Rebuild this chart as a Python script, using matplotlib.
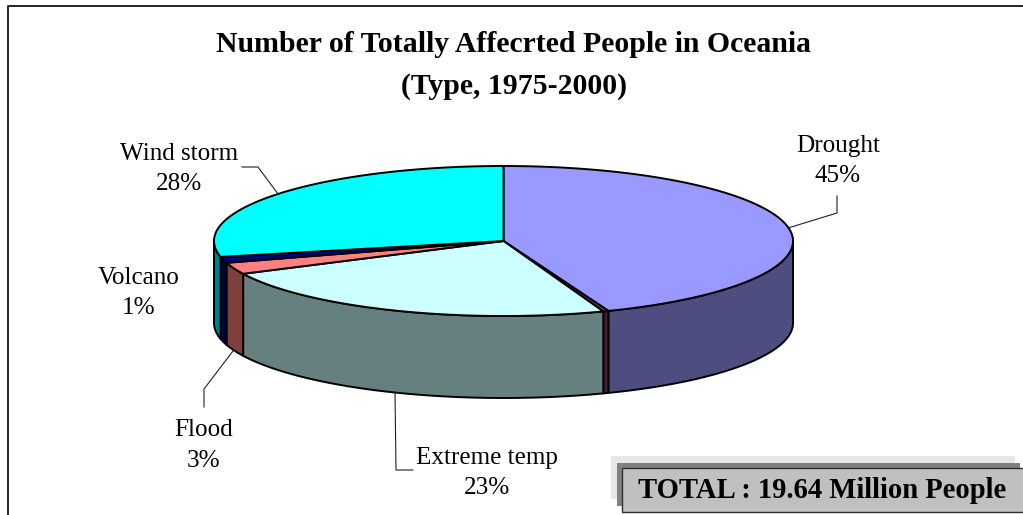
import numpy as np
import matplotlib
matplotlib.use("Agg")
import matplotlib.pyplot as plt
from matplotlib.patches import Rectangle

plt.rcParams['font.family'] = ['Liberation Serif', 'DejaVu Serif']

#---------------------------------------#
# DATA                                  #
#---------------------------------------#
# clockwise from 12 o'clock, shares as they look in the drawing
SHARES = [44.1, 0.3, 23.4, 2.5, 1.3, 28.4]
TOP_COLOURS = ['#9999FF', '#993366', '#CCFFFF', '#FF8080', '#000080', '#00FFFF']
SIDE_COLOURS = ['#4D4D80', '#4D1A33', '#668080', '#804040', '#000040', '#008080']
LABELS = ['Drought\n45%', 'Extreme temp\n23%', 'Flood\n3%', 'Volcano\n1%', 'Wind storm\n28%']
TITLE = 'Number of Totally Affecrted People in Oceania\n(Type, 1975-2000)'
TOTAL_TEXT = 'TOTAL : 19.64 Million People'

#---------------------------------------#
# LAYOUT (pixels)                       #
#---------------------------------------#
CX, CY = 503.5, 241
RX, RY = 289.5, 75
DEPTH = 82
LABEL_POS = [(838, 161), (487, 473), (204, 445.5), (139, 293), (179, 169)]
LEADERS = [
    [(788, 228), (837, 213), (837, 196)],
    [(395, 392), (396, 470), (413, 470)],
    [(233, 351), (204, 389), (204, 407)],
    [(242, 167), (258, 167), (278, 194)],
]


def ellipse_xy(deg, drop=0):
    # deg is clockwise from the top of the ellipse
    a = np.radians(deg)
    return CX + RX * np.sin(a), CY - RY * np.cos(a) + drop


fig = plt.figure(figsize=(10.23, 5.15), dpi=100)
ax = fig.add_axes([0, 0, 1, 1])
ax.set_xlim(0, 1023)
ax.set_ylim(515, 0)
ax.axis('off')

# chart frame, only left and top edges show in the picture
ax.plot([8, 8, 1023], [515, 6, 6], color='black', lw=1.2)

# side walls first, only the front half of the disc shows
edges = np.concatenate([[0], np.cumsum(SHARES)]) / sum(SHARES) * 360
for i in range(len(SHARES)):
    lo, hi = max(edges[i], 90), min(edges[i + 1], 270)
    if hi <= lo:
        continue
    t = np.linspace(lo, hi, 80)
    x, y = ellipse_xy(t)
    xb, yb = ellipse_xy(t[::-1], DEPTH)
    ax.fill(np.r_[x, xb], np.r_[y, yb], fc=SIDE_COLOURS[i], ec='black', lw=1.4, joinstyle='round')

# top wedges
for i in range(len(SHARES)):
    t = np.linspace(edges[i], edges[i + 1], 150)
    x, y = ellipse_xy(t)
    ax.fill(np.r_[CX, x], np.r_[CY, y], fc=TOP_COLOURS[i], ec='black', lw=1.4, joinstyle='round')

for pts in LEADERS:
    ax.plot(*zip(*pts), color='#202020', lw=0.8)

ax.text(514, 65.5, TITLE, ha='center', va='center', fontsize=21.4, fontweight='bold', linespacing=1.68)
for text, (x, y) in zip(LABELS, LABEL_POS):
    ax.text(x, y, text, ha='center', va='center', fontsize=18.1, linespacing=1.5)

# total box with its two shadows
ax.add_patch(Rectangle((611, 456), 404, 43, fc='#E6E6E6', ec='none'))
ax.add_patch(Rectangle((617, 463), 403, 43, fc='#808080', ec='none'))
ax.add_patch(Rectangle((622, 468), 402, 44, fc='#C0C0C0', ec='#303030', lw=1))
ax.text(822, 490, TOTAL_TEXT, ha='center', va='center', fontsize=20.6, fontweight='bold')

fig.savefig('out.png', dpi=100)
